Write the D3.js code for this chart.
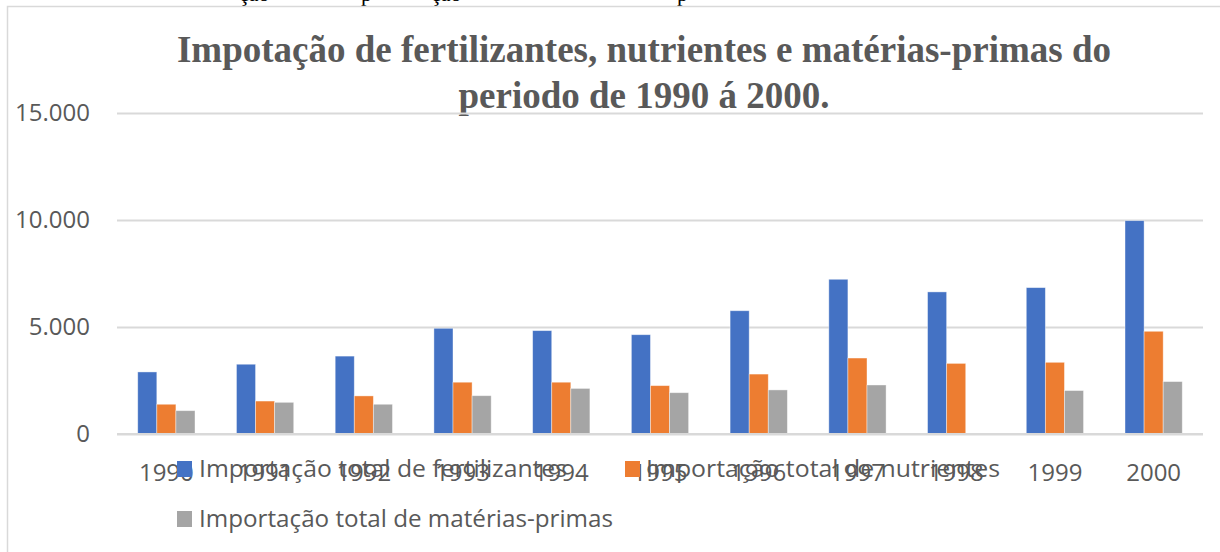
<!DOCTYPE html>
<html>
<head>
<meta charset="utf-8">
<script src="https://cdn.jsdelivr.net/npm/d3@7"></script>
<style>
  body { margin: 0; background: #fff; }
  svg { display: block; }
</style>
</head>
<body>
<div id="chart"></div>
<script>
// data
const years = ['1990', '1991', '1992', '1993', '1994', '1995', '1996', '1997', '1998', '1999', '2000']
const fertilizantes = [2900, 3260, 3640, 4940, 4830, 4640, 5760, 7230, 6640, 6840, 9970]
const nutrientes = [1390, 1540, 1780, 2420, 2420, 2260, 2800, 3550, 3300, 3350, 4800]
const materiasPrimas = [1090, 1480, 1390, 1790, 2130, 1930, 2060, 2290, 0, 2030, 2450]
const seriesNames = [
  'Importação total de fertilizantes',
  'Importação total de nutrientes',
  'Importação total de matérias-primas'
]
const yTicks = [0, 5000, 10000, 15000]
const titleLines = [
  'Impotação de fertilizantes, nutrientes e matérias-primas do',
  'periodo de 1990 á 2000.'
]

const width = 1220
const height = 552
const colors = ['#4472C4', '#ED7D31', '#A5A5A5']
const textColor = '#595959'
const gridColor = '#d9d9d9'
const sans = "'Open Sans', 'Noto Sans', sans-serif"

const plot = { left: 117, right: 1203, top: 113, bottom: 434 }

const svg = d3.select('#chart').append('svg')
  .attr('width', width)
  .attr('height', height)

// caption of the page above the chart, mostly cut off
const captionBits = [['ção', 239], ['p', 361], ['ção', 431], ['p', 677]]
svg.append('g')
  .selectAll('text')
  .data(captionBits)
  .enter().append('text')
  .attr('x', d => d[1])
  .attr('y', 1)
  .attr('font-family', "'Liberation Serif', serif")
  .attr('font-size', 22)
  .attr('fill', '#000')
  .text(d => d[0])

// chart frame
svg.append('rect')
  .attr('x', 7.5).attr('y', 6.5)
  .attr('width', 1300).attr('height', 700)
  .attr('fill', 'none')
  .attr('stroke', gridColor)
  .attr('stroke-width', 1.5)

// title
svg.append('g')
  .selectAll('text')
  .data(titleLines)
  .enter().append('text')
  .attr('x', 644)
  .attr('y', (d, i) => 62 + i * 46)
  .attr('text-anchor', 'middle')
  .attr('font-family', "'Liberation Serif', 'Times New Roman', serif")
  .attr('font-weight', 'bold')
  .attr('font-size', 37)
  .attr('fill', textColor)
  .text(d => d)

// scales
const x = d3.scaleBand()
  .domain(years)
  .range([plot.left, plot.right])
  .paddingInner(0.42)
  .paddingOuter(0.21)

const xSeries = d3.scaleBand()
  .domain(d3.range(seriesNames.length))
  .range([0, x.bandwidth()])

const y = d3.scaleLinear()
  .domain([0, 15000])
  .range([plot.bottom, plot.top])

const ptBR = d3.formatLocale({ decimal: ',', thousands: '.', grouping: [3], currency: ['R$', ''] })
const fmt = ptBR.format(',')

// gridlines
const grid = svg.append('g')
  .attr('transform', `translate(${plot.left},0)`)
  .call(d3.axisLeft(y).tickValues(yTicks).tickSize(-(plot.right - plot.left)).tickFormat(''))
grid.select('.domain').remove()
grid.selectAll('line')
  .attr('stroke', gridColor)
  .attr('stroke-width', 2)

// y axis labels
const yAxis = svg.append('g')
  .attr('transform', `translate(${plot.left},0)`)
  .call(d3.axisLeft(y).tickValues(yTicks).tickSize(0).tickPadding(27).tickFormat(fmt))
yAxis.select('.domain').remove()
yAxis.selectAll('text')
  .attr('font-family', sans)
  .attr('font-size', 24)
  .attr('fill', textColor)

// bars
const table = years.map((yr, i) => ({
  year: yr,
  values: [fertilizantes[i], nutrientes[i], materiasPrimas[i]]
}))

const groups = svg.append('g')
  .selectAll('g')
  .data(table)
  .enter().append('g')
  .attr('transform', d => `translate(${x(d.year)},0)`)

groups.selectAll('rect')
  .data(d => d.values.map((v, s) => ({ v: v, s: s })))
  .enter().append('rect')
  .filter(d => d.v > 0)
  .attr('x', d => xSeries(d.s))
  .attr('y', d => y(d.v))
  .attr('width', xSeries.bandwidth())
  .attr('height', d => y(0) - y(d.v))
  .attr('fill', d => colors[d.s])
  .attr('stroke', '#ffffff')
  .attr('stroke-opacity', 0.5)
  .attr('stroke-width', 0.8)

// x axis
const xAxis = svg.append('g')
  .attr('transform', `translate(0,${plot.bottom})`)
  .call(d3.axisBottom(x).tickSize(0).tickPadding(30))
xAxis.select('.domain').remove()
xAxis.selectAll('text')
  .attr('font-family', sans)
  .attr('font-size', 24)
  .attr('fill', textColor)

svg.append('line')
  .attr('x1', plot.left).attr('x2', plot.right)
  .attr('y1', y(0)).attr('y2', y(0))
  .attr('stroke', gridColor)
  .attr('stroke-width', 2)

// legend (drawn over the year labels, as in the original)
const legendItems = [
  { x: 177, y: 461, tx: 199, len: 368 },
  { x: 625, y: 461, tx: 646, len: 354 },
  { x: 177, y: 511, tx: 199, len: 414 }
]
const legend = svg.append('g')
  .selectAll('g')
  .data(legendItems)
  .enter().append('g')

legend.append('rect')
  .attr('x', d => d.x)
  .attr('y', d => d.y)
  .attr('width', 15)
  .attr('height', 16)
  .attr('fill', (d, i) => colors[i])

legend.append('text')
  .attr('x', d => d.tx)
  .attr('y', d => d.y + 16)
  .attr('font-family', sans)
  .attr('font-size', 24)
  .attr('fill', textColor)
  .attr('textLength', d => d.len)
  .attr('lengthAdjust', 'spacingAndGlyphs')
  .text((d, i) => seriesNames[i])
</script>
</body>
</html>
